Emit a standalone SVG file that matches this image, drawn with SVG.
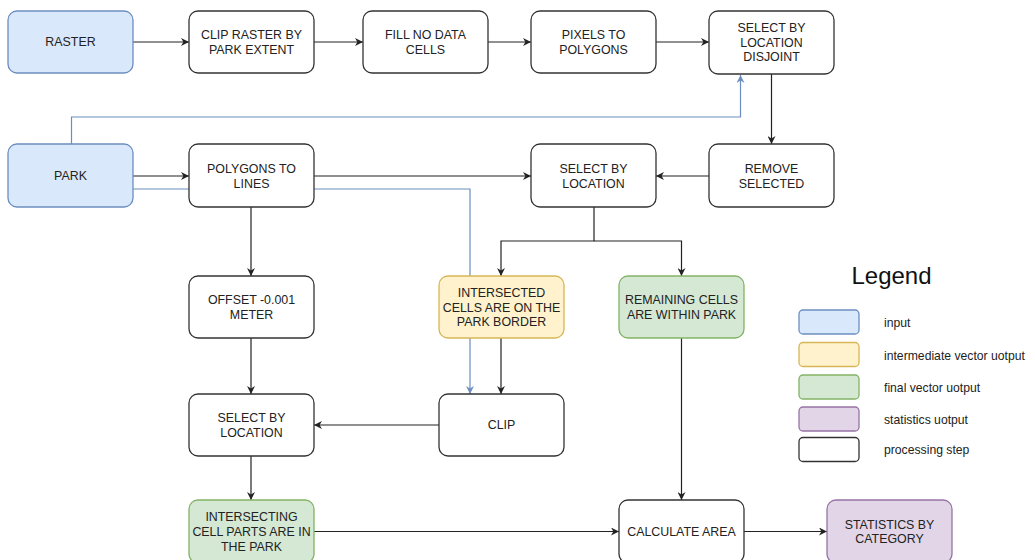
<svg xmlns="http://www.w3.org/2000/svg" width="1035" height="560" viewBox="0 0 1035 560">
<style>
.n{fill:#fff;stroke:#333;stroke-width:1.3}
.in{fill:#dae8fc;stroke:#6c8ebf;stroke-width:1.3}
.mid{fill:#fff2cc;stroke:#d6b656;stroke-width:1.3}
.fin{fill:#d5e8d4;stroke:#82b366;stroke-width:1.3}
.st{fill:#e1d5e7;stroke:#9673a6;stroke-width:1.3}
text{font-family:"Liberation Sans",Arial,sans-serif;font-size:12.4px;fill:#222;text-anchor:middle;dominant-baseline:central}
.lg{font-size:12.2px;text-anchor:start}
.k{fill:none;stroke:#222;stroke-width:1.2}
.b{fill:none;stroke:#6c8ebf;stroke-width:1.2}
</style>
<defs>
<marker id="ak" viewBox="0 0 10 10" refX="10" refY="5" markerWidth="8" markerHeight="8" markerUnits="userSpaceOnUse" orient="auto"><path d="M0,0 L10,5 L0,10 L3,5 z" fill="#222"/></marker>
<marker id="ab" viewBox="0 0 10 10" refX="10" refY="5" markerWidth="8" markerHeight="8" markerUnits="userSpaceOnUse" orient="auto"><path d="M0,0 L10,5 L0,10 L3,5 z" fill="#6c8ebf"/></marker>
</defs>
<g id="connectors">
<path class="b" d="M71.5,144 V117 H740.5 V75" marker-end="url(#ab)"/>
<path class="b" d="M133,189 H470 V394" marker-end="url(#ab)"/>
<path class="k" d="M133,42 H189" marker-end="url(#ak)"/>
<path class="k" d="M314,42 H363" marker-end="url(#ak)"/>
<path class="k" d="M488,42 H531" marker-end="url(#ak)"/>
<path class="k" d="M656,42 H709" marker-end="url(#ak)"/>
<path class="k" d="M771.5,74 V144" marker-end="url(#ak)"/>
<path class="k" d="M709,176 H656" marker-end="url(#ak)"/>
<path class="k" d="M133,176 H189" marker-end="url(#ak)"/>
<path class="k" d="M314,176 H531" marker-end="url(#ak)"/>
<path class="k" d="M251,207 V276" marker-end="url(#ak)"/>
<path class="k" d="M594,207 V241 H501 V276" marker-end="url(#ak)"/>
<path class="k" d="M594,241 H681.5 V276" marker-end="url(#ak)"/>
<path class="k" d="M251,338 V394" marker-end="url(#ak)"/>
<path class="k" d="M501,338 V394" marker-end="url(#ak)"/>
<path class="k" d="M439,425 H314" marker-end="url(#ak)"/>
<path class="k" d="M251,456 V500" marker-end="url(#ak)"/>
<path class="k" d="M314,531.5 H619" marker-end="url(#ak)"/>
<path class="k" d="M681.5,338 V500" marker-end="url(#ak)"/>
<path class="k" d="M744,531.5 H827" marker-end="url(#ak)"/>
</g>
<g id="raster"><rect class="in" x="8" y="11" width="125" height="62" rx="9"/><text x="70.5" y="42">RASTER</text></g>
<g id="clip-raster"><rect class="n" x="189" y="11" width="125" height="62" rx="9"/><text x="251.5" y="35">CLIP RASTER BY</text><text x="251.5" y="49.5">PARK EXTENT</text></g>
<g id="fill-nodata"><rect class="n" x="363" y="11" width="125" height="62" rx="9"/><text x="425.5" y="35">FILL NO DATA</text><text x="425.5" y="49.5">CELLS</text></g>
<g id="pixels-to-polygons"><rect class="n" x="531" y="11" width="125" height="62" rx="9"/><text x="593.5" y="35">PIXELS TO</text><text x="593.5" y="49.5">POLYGONS</text></g>
<g id="select-disjoint"><rect class="n" x="709" y="11" width="125" height="63" rx="9"/><text x="771.5" y="28">SELECT BY</text><text x="771.5" y="42.5">LOCATION</text><text x="771.5" y="57">DISJOINT</text></g>
<g id="park"><rect class="in" x="8" y="144" width="125" height="63" rx="9"/><text x="70.5" y="176">PARK</text></g>
<g id="polygons-to-lines"><rect class="n" x="189" y="144" width="125" height="63" rx="9"/><text x="251.5" y="169">POLYGONS TO</text><text x="251.5" y="183.5">LINES</text></g>
<g id="select-location"><rect class="n" x="531" y="144" width="125" height="63" rx="9"/><text x="593.5" y="169">SELECT BY</text><text x="593.5" y="183.5">LOCATION</text></g>
<g id="remove-selected"><rect class="n" x="709" y="144" width="125" height="63" rx="9"/><text x="771.5" y="169">REMOVE</text><text x="771.5" y="183.5">SELECTED</text></g>
<g id="offset"><rect class="n" x="189" y="276" width="125" height="62" rx="9"/><text x="251.5" y="300">OFFSET -0.001</text><text x="251.5" y="315">METER</text></g>
<g id="intersected"><rect class="mid" x="439" y="276" width="125" height="62" rx="9"/><text x="501.5" y="293">INTERSECTED</text><text x="501.5" y="307.5">CELLS ARE ON THE</text><text x="501.5" y="322">PARK BORDER</text></g>
<g id="remaining"><rect class="fin" x="619" y="276" width="125" height="62" rx="9"/><text x="681.5" y="300">REMAINING CELLS</text><text x="681.5" y="315">ARE WITHIN PARK</text></g>
<g id="select-location-2"><rect class="n" x="189" y="394" width="125" height="62" rx="9"/><text x="251.5" y="418">SELECT BY</text><text x="251.5" y="433">LOCATION</text></g>
<g id="clip"><rect class="n" x="439" y="394" width="125" height="62" rx="9"/><text x="501.5" y="425">CLIP</text></g>
<g id="intersecting"><rect class="fin" x="189" y="500" width="125" height="63" rx="9"/><text x="251.5" y="517">INTERSECTING</text><text x="251.5" y="531.5">CELL PARTS ARE IN</text><text x="251.5" y="546.5">THE PARK</text></g>
<g id="calculate-area"><rect class="n" x="619" y="500" width="125" height="63" rx="9"/><text x="681.5" y="531.5">CALCULATE AREA</text></g>
<g id="statistics"><rect class="st" x="827" y="500" width="125" height="63" rx="9"/><text x="889.5" y="524.5">STATISTICS BY</text><text x="889.5" y="539">CATEGORY</text></g>
<g id="legend">
<text x="891.5" y="275" style="font-size:24px;fill:#111">Legend</text>
<rect class="in" x="799" y="310" width="60" height="24" rx="4"/><text class="lg" x="884" y="323">input</text>
<rect class="mid" x="799" y="342.5" width="60" height="24" rx="4"/><text class="lg" x="884" y="355.5">intermediate vector uotput</text>
<rect class="fin" x="799" y="375" width="60" height="24" rx="4"/><text class="lg" x="884" y="388">final vector uotput</text>
<rect class="st" x="799" y="407" width="60" height="24" rx="4"/><text class="lg" x="884" y="420">statistics uotput</text>
<rect class="n" x="799" y="437.5" width="60" height="24" rx="4"/><text class="lg" x="884" y="450">processing step</text>
</g>
</svg>
